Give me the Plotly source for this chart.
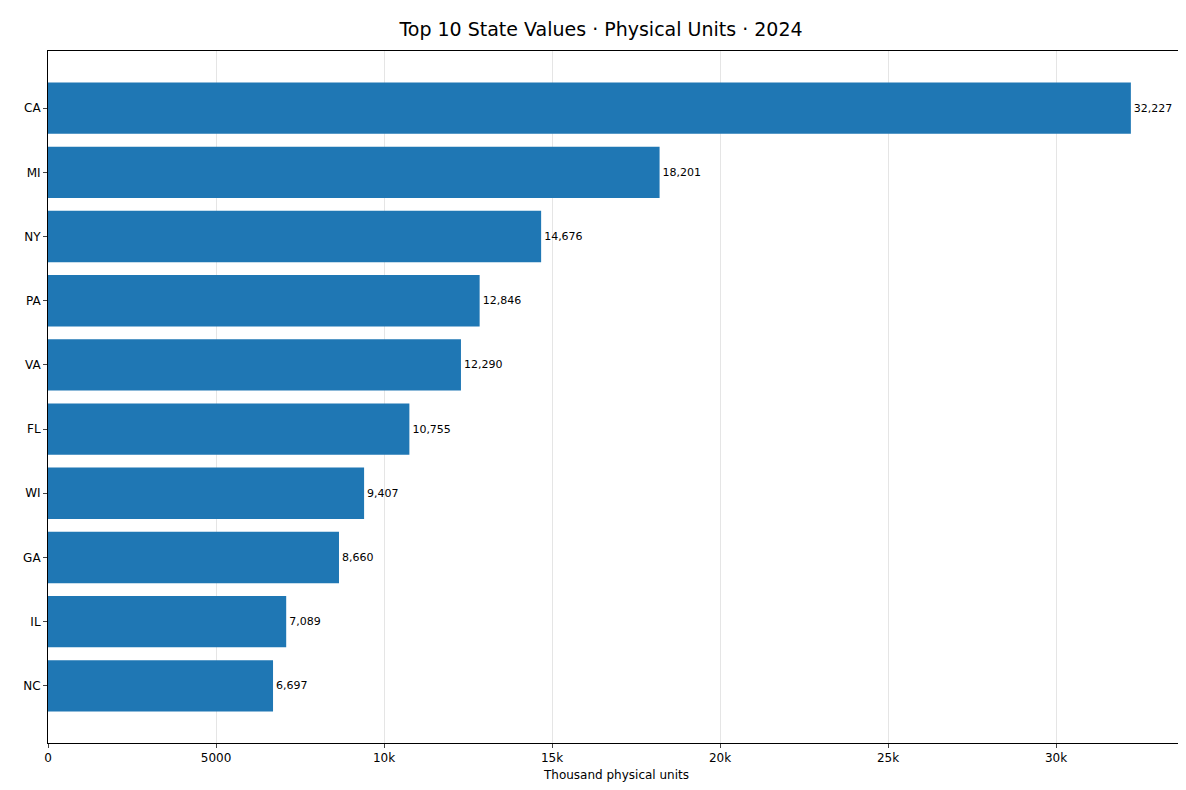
import plotly.graph_objects as go

states = ["CA", "MI", "NY", "PA", "VA", "FL", "WI", "GA", "IL", "NC"]
values = [32227, 18201, 14676, 12846, 12290, 10755, 9407, 8660, 7089, 6697]
labels = [f"{v:,}" for v in values]
ypos = list(range(len(states) - 1, -1, -1))

fig = go.Figure(go.Bar(
    x=values, y=ypos, orientation="h", width=0.8,
    marker=dict(color="#1f77b4", line=dict(width=0)),
    text=labels, textposition="outside", textfont=dict(size=11, color="black"),
    cliponaxis=False,
))
fig.update_layout(
    width=1186, height=790, plot_bgcolor="white", paper_bgcolor="white",
    margin=dict(l=40, r=9, t=43, b=55),
    font=dict(family="DejaVu Sans", size=12, color="black"),
    title=dict(text="Top 10 State Values · Physical Units · 2024", x=0.5, xanchor="center",
               y=0.982, yanchor="top", font=dict(size=19)),
    showlegend=False,
)
fig.update_xaxes(range=[0, 33838], tickvals=[0, 5000, 10000, 15000, 20000, 25000, 30000],
                 ticks="outside", ticklen=4, showgrid=True, gridcolor="rgba(0,0,0,0.1)",
                 showline=True, linecolor="black", mirror=True, zeroline=False,
                 title=dict(text="Thousand physical units", font=dict(size=12), standoff=6))
fig.update_yaxes(range=[-0.89, 9.89], tickvals=ypos, ticktext=states, ticks="outside", ticklen=4,
                 showgrid=False, showline=True, linecolor="black", mirror=True, zeroline=False)
fig.write_html("out.html")
